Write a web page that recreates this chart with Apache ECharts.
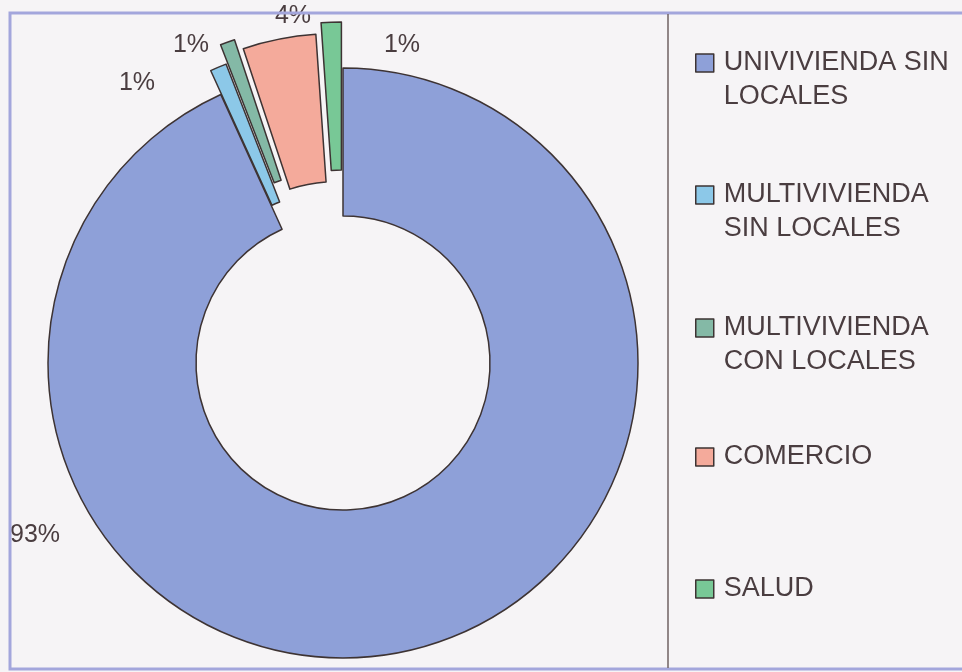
<!DOCTYPE html>
<html>
<head>
<meta charset="utf-8">
<script src="https://cdn.jsdelivr.net/npm/echarts@6/dist/echarts.min.js"></script>
<style>
html,body{margin:0;padding:0;background:#f6f4f6;}
#chart{width:962px;height:672px;}
</style>
</head>
<body>
<div id="chart"></div>
<script>
// ---- data ----
const categories = ['UNIVIVIENDA SIN LOCALES', 'MULTIVIVIENDA SIN LOCALES', 'MULTIVIVIENDA CON LOCALES', 'COMERCIO', 'SALUD'];
const values = [93.2, 0.9, 0.8, 4.0, 1.1];
const legendText = ['UNIVIVIENDA SIN\nLOCALES', 'MULTIVIVIENDA\nSIN LOCALES', 'MULTIVIVIENDA\nCON LOCALES', 'COMERCIO', 'SALUD'];

// ---- styling ----
const colors = ['#8ea0d8', '#8cc8e8', '#84b9a6', '#f4aa9b', '#78c896'];
const explode = [0, 26, 46, 35, 46];          // explosion distance per slice (px)
const labelPos = [[35, 535], [137, 83], [191, 45], [293, 16], [402, 45]];
const legendTop = [12, 144, 277, 440, 572];
const pieCenter = [343, 363];
const edge = '#3d3333';
const txt = '#4a3d40';
const font = 'Liberation Sans, Arial, sans-serif';

const total = values.reduce((a, b) => a + b, 0);

// each slice gets its own series (all data, only one visible) so it can be exploded by its own distance
const series = categories.map((cat, k) => {
  const before = values.slice(0, k).reduce((a, b) => a + b, 0);
  const mid = (before + values[k] / 2) / total * 2 * Math.PI;
  const c = [pieCenter[0] + explode[k] * Math.sin(mid), pieCenter[1] - explode[k] * Math.cos(mid)];
  return {
    type: 'pie',
    name: cat,
    center: c,
    radius: [147, 295],
    startAngle: 90,
    clockwise: true,
    avoidLabelOverlap: false,
    selectedMode: false,
    emphasis: { disabled: true },
    animation: false,
    labelLine: { show: false },
    labelLayout: function () {
      return { x: labelPos[k][0], y: labelPos[k][1], align: 'center', verticalAlign: 'middle' };
    },
    data: categories.map((n, i) => ({
      name: n,
      value: values[i],
      itemStyle: i === k
        ? { color: colors[i], borderColor: edge, borderWidth: 1.5 }
        : { color: 'rgba(0,0,0,0)', borderWidth: 0 },
      label: {
        show: i === k,
        position: 'outside',
        formatter: () => Math.round(values[i] / total * 100) + '%',
        fontFamily: font,
        fontSize: 25,
        color: txt
      }
    }))
  };
});

const legends = categories.map((cat, k) => {
  const twoLine = legendText[k].indexOf('\n') >= 0;
  return {
    left: 695,
    top: legendTop[k],
    orient: 'vertical',
    padding: 0,
    itemWidth: 18,
    itemHeight: 18,
    icon: 'rect',
    selectedMode: false,
    data: [{ name: cat, itemStyle: { color: colors[k], borderColor: edge, borderWidth: 1.5 } }],
    // leading blank line keeps the first text line level with the square
    formatter: () => (twoLine ? '\n' : '') + legendText[k],
    textStyle: {
      fontFamily: font,
      fontSize: 27,
      lineHeight: 34,
      color: txt,
      padding: [0, 0, 0, 5]
    }
  };
});

const chart = echarts.init(document.getElementById('chart'), null, { renderer: 'canvas' });
chart.setOption({
  backgroundColor: '#f6f4f6',
  animation: false,
  legend: legends,
  series: series,
  graphic: [
    {
      type: 'rect', z: 100, silent: true,
      shape: { x: 10, y: 13, width: 980, height: 656 },
      style: { fill: 'none', stroke: '#a3a6dc', lineWidth: 3 }
    },
    {
      type: 'line', z: 100, silent: true,
      shape: { x1: 668, y1: 14, x2: 668, y2: 668 },
      style: { stroke: '#6f6262', lineWidth: 1.5 }
    }
  ]
});
</script>
</body>
</html>
